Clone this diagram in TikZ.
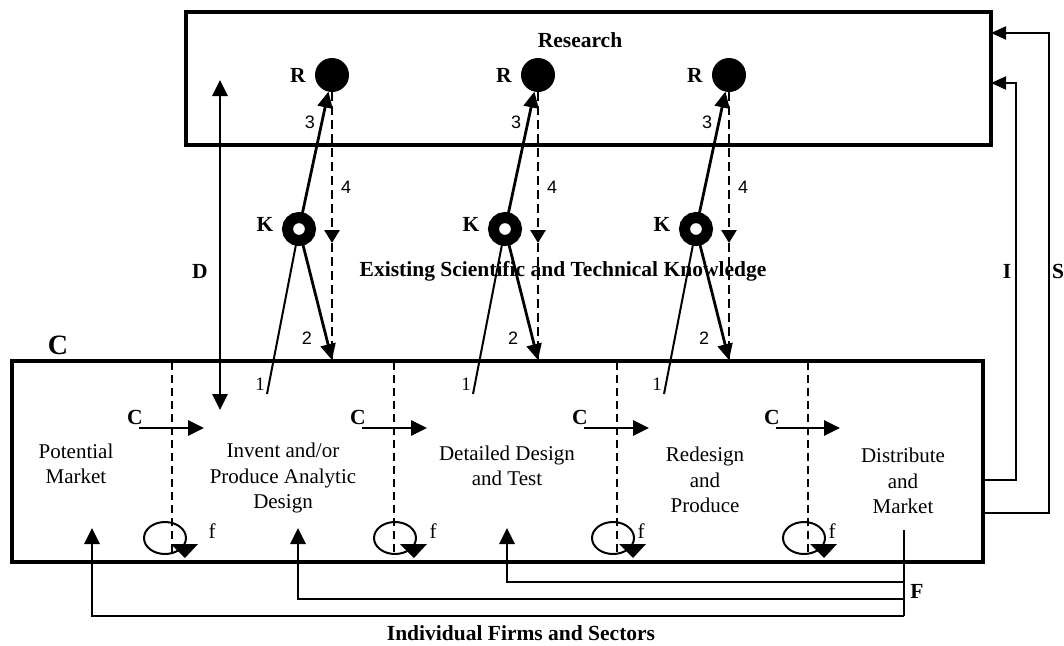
\documentclass[tikz,border=0pt]{standalone}
\usepackage{fontspec}
\setmainfont{Liberation Serif}
\newfontfamily\digitfont{Liberation Sans}
\usetikzlibrary{arrows.meta}
\begin{document}
\begin{tikzpicture}[x=1pt,y=-1pt,
  every node/.style={inner sep=0pt, outer sep=0pt},
  box/.style={draw, line width=3.5pt},
  lbl/.style={font=\bfseries\fontsize{21.5}{21.5}\selectfont},
  biglbl/.style={font=\bfseries\fontsize{28}{28}\selectfont},
  stage/.style={align=center, font=\fontsize{21}{25.5}\selectfont},
  num/.style={font=\digitfont\fontsize{18}{18}\selectfont},
  numser/.style={font=\fontsize{19}{19}\selectfont},
  flbl/.style={font=\fontsize{21}{21}\selectfont},
  arr/.style={line width=2.8pt, -{Triangle[length=16pt,width=15pt]}},
  darr/.style={line width=2.8pt, {Triangle[length=16pt,width=15pt]}-{Triangle[length=16pt,width=15pt]}},
  thinarr/.style={line width=2pt, -{Triangle[length=15pt,width=13pt]}},
  thinline/.style={line width=2pt},
  dsh/.style={line width=2.8pt, dash pattern=on 9pt off 5pt},
  dsharr/.style={dsh, -{Triangle[length=13pt,width=15pt]}},
  vdash/.style={line width=2.2pt, dash pattern=on 8pt off 5pt},
  rdot/.style={circle, fill=black, minimum size=34pt},
  kring/.style={circle, draw=black, fill=white, line width=11pt, minimum size=23pt},
  loopst/.style={line width=2pt},
]
\useasboundingbox (0,0) rectangle (1064,645);

% boxes
\node[box, minimum width=805pt, minimum height=133pt] (res) at (588.5,78.5) {};
\node[box, minimum width=971pt, minimum height=201pt] (cbox) at (497.5,461.5) {};

% titles
\node[lbl] (restitle) at (580,40) {Research};
\node[lbl] (exist) at (563,271) {Existing Scientific and Technical Knowledge};
\node[lbl] (firms) at (521,633) {Individual Firms and Sectors};
\node[biglbl] (Cbig) at (58,345) {C};
\node[lbl] (Dl) at (200,271) {D};
\node[lbl] (Il) at (1007,271) {I};
\node[lbl] (Sl) at (1058,271) {S};
\node[lbl] (Fl) at (917,591) {F};

% stages
\node[stage] (pm) at (76,464) {Potential\\Market};
\node[stage] (inv) at (283,478) {Invent and/or\\Produce Analytic\\Design};
\node[stage] (ddt) at (507,466) {Detailed Design\\and Test};
\node[stage] (rp) at (705,480) {Redesign\\and\\Produce};
\node[stage] (dm) at (903,481) {Distribute\\and\\Market};

% dashed stage separators
\foreach \i/\x in {1/172,2/394,3/617,4/808}{
  \coordinate (st\i) at (\x,362);
  \coordinate (sb\i) at (\x,557);
  \draw[vdash] (st\i) -- (sb\i);
}

% research / knowledge columns
\foreach \i/\dx in {1/0,2/206,3/397}{
  \node[rdot] (R\i) at (332+\dx,75) {};
  \node[lbl] (Rl\i) at (298+\dx,75) {R};
  \node[kring] (K\i) at (299+\dx,229) {};
  \node[lbl] (Kl\i) at (265+\dx,224) {K};
  \coordinate (mid\i) at (332+\dx,243);
  \coordinate (bot\i) at (332+\dx,360);
  \coordinate (one\i) at (267+\dx,394);
  \draw[arr] (K\i) -- (R\i);
  \draw[dsharr] (R\i) -- (mid\i);
  \draw[dsh] (mid\i) -- (bot\i);
  \draw[arr] (K\i) -- (bot\i);
  \draw[thinline] (K\i) -- (one\i);
  \node[num] (n3\i) at (310+\dx,122) {3};
  \node[num] (n4\i) at (346+\dx,187) {4};
  \node[num] (n2\i) at (307+\dx,338) {2};
  \node[numser] (n1\i) at (260+\dx,384) {1};
}

% D arrow
\coordinate (Dtop) at (220,80);
\coordinate (Dbot) at (220,410);
\draw[darr] (Dtop) -- (Dbot);

% C arrows
\foreach \i/\a/\b in {1/139/204,2/362/427,3/584/649,4/776/840}{
  \node[lbl] (cl\i) at (\a-4,417) {C};
  \coordinate (cs\i) at (\a,428);
  \coordinate (ce\i) at (\b,428);
  \draw[arr] (cs\i) -- (ce\i);
}

% f loops
\foreach \i/\cx/\tx/\fx in {1/165/171/212,2/395/400/433,3/613/619/641,4/804/810/832}{
  \coordinate (lc\i) at (\cx,538);
  \draw[loopst] (lc\i) ellipse [x radius=21pt, y radius=16pt];
  \fill (\tx,544) -- (\tx+27,544) -- (\tx+14,558) -- cycle;
  \node[flbl] (f\i) at (\fx,531) {f};
}

% I and S feedback to research
\coordinate (Iout) at (cbox.east |- 0,480);
\coordinate (Sout) at (cbox.east |- 0,513);
\coordinate (Iin) at (res.east |- 0,83);
\coordinate (Sin) at (res.east |- 0,33);
\draw[thinarr] (Iout) -- ++(33,0) |- (Iin);
\draw[thinarr] (Sout) -- ++(66,0) |- (Sin);

% F feedback to stages
\coordinate (Ftop) at (904,530);
\coordinate (Fbot) at (904,616);
\draw[thinline] (Ftop) -- (Fbot);
\coordinate (F1) at (904,582);
\coordinate (F2) at (904,599);
\coordinate (F3) at (904,616);
\coordinate (T1) at (507,528);
\coordinate (T2) at (298,528);
\coordinate (T3) at (92,528);
\draw[arr] (F1) -| (T1);
\draw[arr] (F2) -| (T2);
\draw[arr] (F3) -| (T3);
\end{tikzpicture}
\end{document}
